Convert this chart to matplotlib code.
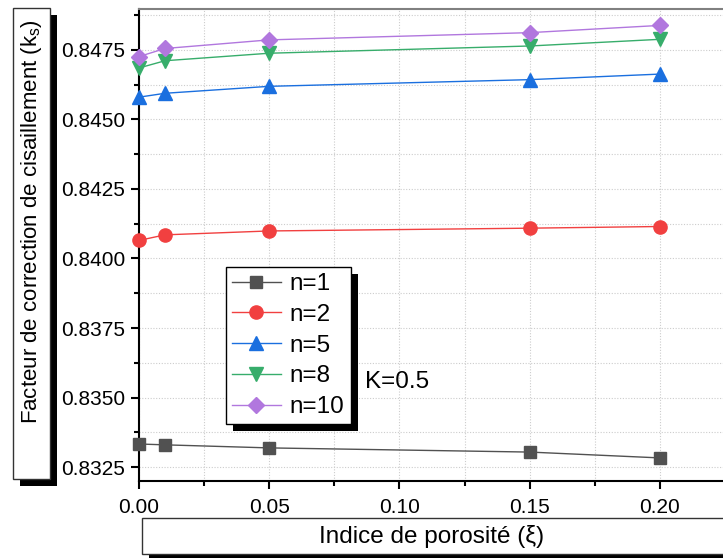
import matplotlib
matplotlib.use("Agg")
import matplotlib.pyplot as plt
from matplotlib.patches import Rectangle
from matplotlib.ticker import MultipleLocator, FormatStrFormatter

plt.rcParams['font.family'] = ['Liberation Sans', 'DejaVu Sans']

# ---- data ----
xi = [0.0, 0.01, 0.05, 0.15, 0.20]
ks_n1 = [0.83333, 0.83330, 0.83319, 0.83304, 0.83283]
ks_n2 = [0.84065, 0.84085, 0.84099, 0.84109, 0.84115]
ks_n5 = [0.84580, 0.84594, 0.84619, 0.84643, 0.84663]
ks_n8 = [0.84685, 0.84711, 0.84738, 0.84764, 0.84788]
ks_n10 = [0.84726, 0.84755, 0.84786, 0.84812, 0.84838]
series_labels = ['n=1', 'n=2', 'n=5', 'n=8', 'n=10']
x_label = 'Indice de porosité (ξ)'
y_label = r'Facteur de correction de cisaillement (k$_\mathregular{s}$)'
annot = 'K=0.5'

W, H = 723, 558
fig = plt.figure(figsize=(W / 100, H / 100), dpi=100)

def fx(x):
    return x / W

def fy(y):
    return 1 - y / H

ax = fig.add_axes([fx(139), fy(481), fx(723 - 139), (481 - 9) / H])

colors = ['#515151', '#F14040', '#1A6FDF', '#37AD6B', '#B177DE']
markers = ['s', 'o', '^', 'v', 'D']
msizes = [8.5, 9.5, 10, 10, 8]
data = [ks_n1, ks_n2, ks_n5, ks_n8, ks_n10]
for ys, c, m, ms, lab in zip(data, colors, markers, msizes, series_labels):
    ax.plot(xi, ys, color=c, marker=m, markersize=ms, linewidth=1,
            label=lab, clip_on=False, zorder=3)

ax.set_xlim(0, 0.2242)
ax.set_ylim(0.8320, 0.84897)
ax.xaxis.set_major_locator(MultipleLocator(0.05))
ax.xaxis.set_minor_locator(MultipleLocator(0.025))
ax.yaxis.set_major_locator(MultipleLocator(0.0025))
ax.yaxis.set_minor_locator(MultipleLocator(0.00125))
ax.xaxis.set_major_formatter(FormatStrFormatter('%.2f'))
ax.yaxis.set_major_formatter(FormatStrFormatter('%.4f'))
ax.tick_params(which='both', direction='out', top=False, right=False,
               width=1.5, labelsize=15, color='black')
ax.tick_params(which='major', length=6)
ax.tick_params(which='minor', length=3.6)
ax.tick_params(axis='x', pad=6)
ax.tick_params(axis='y', pad=4)

ax.grid(which='both', linestyle=(0, (1, 1.5)), color='#cccccc', linewidth=0.8, zorder=0)
ax.set_axisbelow(True)

for s in ['left', 'bottom']:
    ax.spines[s].set_linewidth(1.5)
    ax.spines[s].set_color('black')
ax.spines['top'].set_color('#808080')
ax.spines['top'].set_linewidth(1.5)
ax.spines['right'].set_visible(False)

# legend
leg = ax.legend(loc='upper left', bbox_to_anchor=(fx(226), fy(267)),
                bbox_transform=fig.transFigure, borderaxespad=0,
                fontsize=17.5, frameon=True, fancybox=False,
                edgecolor='black', framealpha=1, handlelength=2.0,
                handletextpad=0.37, labelspacing=0.36, borderpad=0.25)
leg.get_frame().set_linewidth(1.0)
leg.set_zorder(6)

ax.text(fx(365), fy(382), annot, transform=fig.transFigure, fontsize=17.5,
        ha='left', va='center')

# boxes with drop shadows (axis titles)
def shadow_box(x0, y0, x1, y1, off=7):
    sh = Rectangle((fx(x0 + off), fy(y1 + off)), (x1 - x0) / W, (y1 - y0) / H,
                   transform=fig.transFigure, facecolor='black', edgecolor='none',
                   zorder=1)
    bx = Rectangle((fx(x0), fy(y1)), (x1 - x0) / W, (y1 - y0) / H,
                   transform=fig.transFigure, facecolor='white', edgecolor='#333333',
                   linewidth=1, zorder=2)
    fig.patches.extend([sh, bx])

shadow_box(13, 8, 50, 479)
shadow_box(142, 518, 760, 554)

fig.text(fx(32), fy(222), y_label, rotation=90, fontsize=16, ha='center', va='center')
fig.text(fx(432), fy(537), x_label, fontsize=17.5, ha='center', va='center')

# legend shadow
fig.canvas.draw()
bb = leg.get_window_extent()
inv = fig.transFigure.inverted()
(lx0, ly0), (lx1, ly1) = inv.transform([(bb.x0 + 7, bb.y0 - 7), (bb.x1 + 7, bb.y1 - 7)])
lsh = Rectangle((lx0, ly0), lx1 - lx0, ly1 - ly0, transform=fig.transFigure,
                facecolor='black', edgecolor='none', zorder=5.5, clip_on=False)
ax.add_artist(lsh)

fig.savefig('out.png', dpi=100)
